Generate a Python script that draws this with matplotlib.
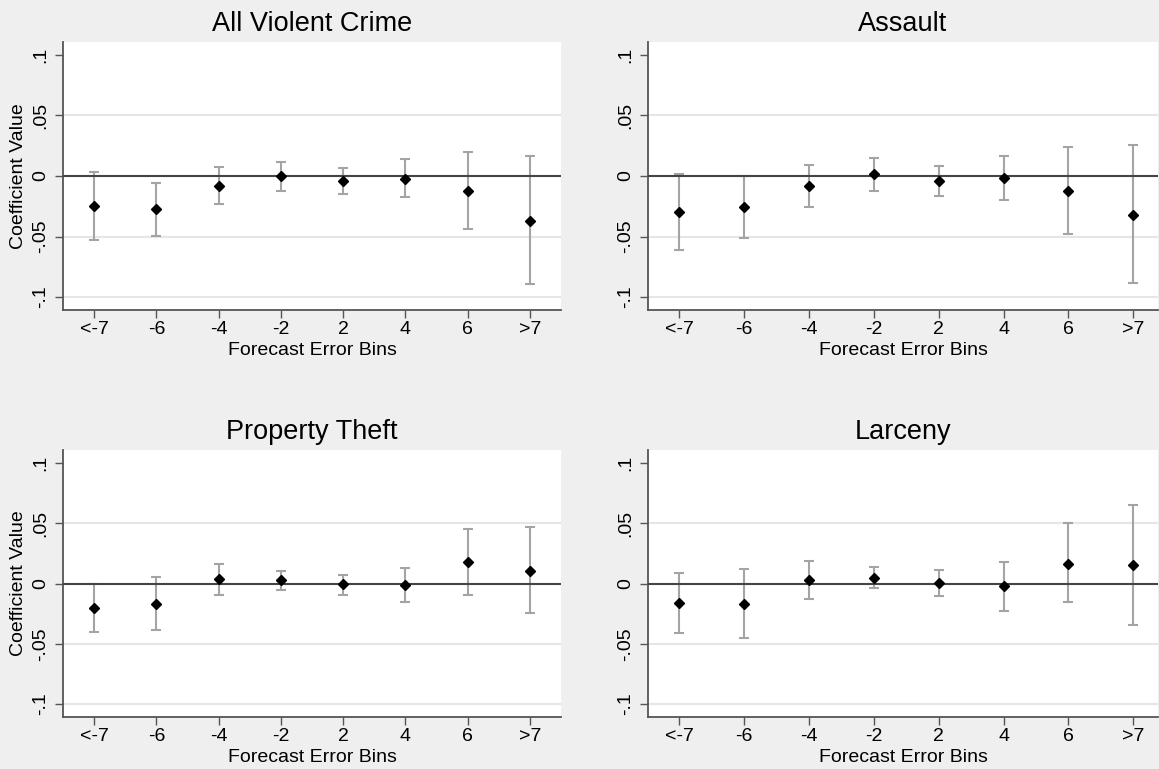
import matplotlib
matplotlib.use('Agg')
import matplotlib.pyplot as plt
import numpy as np

plt.rcParams['font.family'] = ['Liberation Sans', 'DejaVu Sans']

bins = ['<-7', '-6', '-4', '-2', '2', '4', '6', '>7']
yticks = [-0.1, -0.05, 0, 0.05, 0.1]
ytick_labels = ['-.1', '-.05', '0', '.05', '.1']

# point estimates and 95% CI bounds
violent_coef = [-0.0247, -0.0275, -0.0082, 0.0000, -0.0044, -0.0022, -0.0121, -0.0368]
violent_lo = [-0.0525, -0.0495, -0.0234, -0.0124, -0.0151, -0.0176, -0.0437, -0.0890]
violent_hi = [0.0033, -0.0055, 0.0077, 0.0115, 0.0066, 0.0140, 0.0198, 0.0165]

assault_coef = [-0.0300, -0.0255, -0.0085, 0.0014, -0.0041, -0.0019, -0.0121, -0.0319]
assault_lo = [-0.0615, -0.0510, -0.0258, -0.0121, -0.0168, -0.0200, -0.0478, -0.0882]
assault_hi = [0.0020, 0.0003, 0.0090, 0.0148, 0.0085, 0.0165, 0.0239, 0.0253]

theft_coef = [-0.0204, -0.0171, 0.0036, 0.0025, -0.0008, -0.0014, 0.0179, 0.0105]
theft_lo = [-0.0402, -0.0386, -0.0094, -0.0055, -0.0094, -0.0157, -0.0094, -0.0248]
theft_hi = [-0.0003, 0.0052, 0.0165, 0.0107, 0.0069, 0.0127, 0.0452, 0.0466]

larceny_coef = [-0.0163, -0.0168, 0.0033, 0.0047, 0.0006, -0.0022, 0.0165, 0.0157]
larceny_lo = [-0.0413, -0.0455, -0.0129, -0.0041, -0.0105, -0.0226, -0.0157, -0.0342]
larceny_hi = [0.0091, 0.0124, 0.0187, 0.0135, 0.0116, 0.0182, 0.0499, 0.0653]

panels = [
    ('All Violent Crime', violent_coef, violent_lo, violent_hi),
    ('Assault', assault_coef, assault_lo, assault_hi),
    ('Property Theft', theft_coef, theft_lo, theft_hi),
    ('Larceny', larceny_coef, larceny_lo, larceny_hi),
]

W, H = 1159, 769
bg = '#efefef'
fig = plt.figure(figsize=(W/100, H/100), dpi=100, facecolor=bg)

# pixel boxes: left, right, top, bottom
boxes = [(63, 561, 42, 310), (648, 1158, 42, 310),
         (63, 561, 450, 717), (648, 1158, 450, 717)]
xlims = [(-0.5, 7.5), (-0.48, 7.38), (-0.5, 7.5), (-0.48, 7.38)]

x = np.arange(len(bins))
for i, (title, coef, lo, hi) in enumerate(panels):
    l, r, t, b = boxes[i]
    ax = fig.add_axes([l/W, 1-b/H, (r-l)/W, (b-t)/H])
    ax.set_facecolor('white')
    coef = np.array(coef)
    yerr = [coef - np.array(lo), np.array(hi) - coef]
    for g in [-0.1, -0.05, 0.05]:
        ax.axhline(g, color='#e6e6e6', lw=1.5, zorder=1)
    ax.errorbar(x, coef, yerr=yerr, fmt='none', ecolor='#a4a4a4',
                elinewidth=1.5, capsize=3.4, capthick=1.5, zorder=2)
    ax.axhline(0, color='#444444', lw=1.5, zorder=3)
    ax.plot(x, coef, 'D', color='black', markersize=5.6, zorder=4)
    ax.set_xlim(*xlims[i])
    ax.set_ylim(-0.1107, 0.1107)
    ax.set_xticks(x)
    ax.set_xticklabels(bins, fontsize=14)
    ax.set_yticks(yticks)
    ax.set_yticklabels(ytick_labels, fontsize=14, rotation=90, va='center')
    ax.tick_params(length=6, width=1, color='#555555', pad=2)
    ax.tick_params(axis='y', pad=4)
    for s in ['top', 'right']:
        ax.spines[s].set_visible(False)
    for s in ['left', 'bottom']:
        ax.spines[s].set_color('#555555')
        ax.spines[s].set_linewidth(1.3)
    ax.set_title(title, fontsize=19.5, pad=8)
    ax.set_xlabel('Forecast Error Bins', fontsize=14, labelpad=3)
    if i % 2 == 0:
        ax.set_ylabel('Coefficient Value', fontsize=14, labelpad=4)

fig.savefig('out.png', dpi=100, facecolor=bg)
